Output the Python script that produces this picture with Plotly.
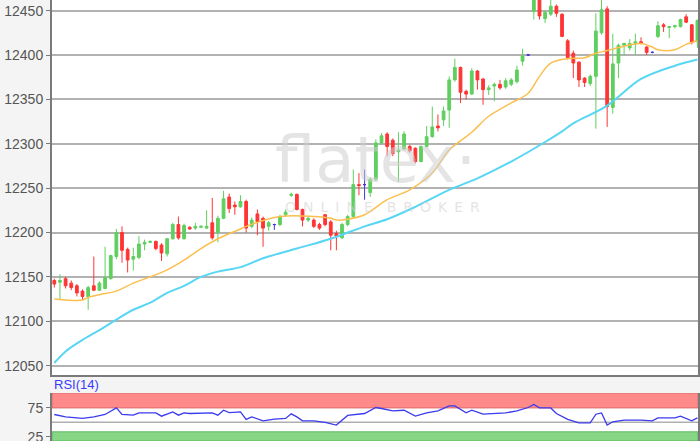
import plotly.graph_objects as go
import numpy as np

# ---- candle data (index = trading period) ----
open_ = [12146,12144,12148,12143,12140,12134,12128,12140,12135,12137,
         12148,12173,12200,12181,12170,12172,12187,12189,12190,12186,
         12176,12193,12209,12193,12206,12205,12206,12205,12211,12200,
         12216,12240,12231,12229,12235,12207,12221,12216,12207,12209,
         12209,12220,12242,12243,12226,12214,12214,12209,12220,12212,
         12199,12194,12209,12218,12254,12254,12245,12260,12301,12311,
         12304,12291,12294,12297,12295,12280,12297,12308,12320,12327,
         12338,12372,12386,12359,12356,12382,12373,12361,12365,12367,
         12364,12367,12370,12393,12400,12449,12465,12441,12446,12455,
         12446,12416,12402,12392,12374,12368,12376,12425,12452,12341,
         12391,12411,12408,12413,12415,12409,12403,12421,12434,12431,
         12432,12432,12443,12434,12415]
high_ = [12148,12153,12150,12146,12142,12136,12140,12173,12145,12184,
         12175,12204,12207,12183,12183,12196,12192,12191,12191,12188,
         12194,12211,12218,12210,12207,12211,12208,12225,12239,12219,
         12247,12244,12235,12242,12237,12217,12226,12218,12213,12210,
         12220,12226,12245,12244,12227,12218,12216,12211,12221,12214,
         12202,12211,12220,12271,12267,12271,12262,12305,12312,12313,
         12306,12313,12314,12299,12296,12298,12320,12342,12333,12342,
         12376,12396,12387,12361,12385,12383,12374,12366,12369,12372,
         12374,12374,12388,12407,12401,12475,12470,12450,12466,12457,
         12447,12418,12405,12393,12375,12378,12447,12465,12455,12424,
         12413,12414,12418,12424,12420,12410,12404,12438,12436,12432,
         12434,12441,12446,12435,12440]
low_ = [12138,12125,12137,12135,12128,12124,12113,12134,12134,12136,
        12147,12170,12166,12155,12157,12170,12180,12188,12180,12168,
        12173,12192,12192,12192,12203,12203,12205,12204,12192,12189,
        12215,12222,12220,12228,12200,12205,12197,12184,12202,12203,
        12207,12218,12240,12225,12207,12212,12205,12203,12207,12180,
        12180,12193,12207,12216,12242,12237,12240,12258,12299,12286,
        12286,12257,12293,12290,12278,12279,12296,12307,12314,12320,
        12318,12370,12346,12350,12355,12361,12344,12355,12348,12361,
        12362,12365,12368,12388,12399,12440,12440,12436,12444,12443,
        12420,12395,12374,12364,12364,12365,12317,12423,12319,12334,
        12374,12400,12405,12400,12412,12400,12402,12419,12426,12419,
        12430,12431,12436,12412,12408]
close_ = [12142,12146,12140,12138,12132,12128,12138,12135,12143,12149,
          12174,12200,12180,12169,12173,12187,12189,12190,12182,12177,
          12193,12209,12194,12208,12204,12207,12207,12207,12194,12216,
          12238,12227,12229,12235,12205,12214,12212,12205,12211,12209,
          12218,12223,12243,12226,12214,12216,12207,12205,12209,12197,
          12196,12209,12218,12254,12253,12254,12260,12301,12309,12297,
          12289,12293,12311,12292,12280,12297,12308,12319,12318,12337,
          12372,12386,12358,12356,12382,12372,12361,12363,12367,12363,
          12371,12372,12383,12399,12400,12470,12444,12448,12455,12447,
          12421,12397,12391,12372,12369,12376,12427,12451,12342,12390,
          12411,12413,12413,12415,12413,12403,12403,12433,12432,12432,
          12433,12440,12437,12414,12439]

# moving averages (candle index, value)
ma_fast_idx = [0,2,5,6,8,11,14,17,20,23,26,29,33,34,40,46,49,50,52,55,59,63,
               67,70,74,77,81,84,86,88,91,94,96,98,101,104,106,107,110,112,114]
ma_fast_val = [12125,12124,12124,12127,12130,12134,12143,12150,12158,12169,12182,
               12193,12204,12207,12218,12218,12216,12214,12215,12220,12237,12248,
               12267,12293,12313,12331,12346,12357,12376,12391,12396,12397,12402,
               12405,12410,12413,12409,12406,12406,12412,12416]
ma_slow_idx = [0,2,5,8,11,14,17,20,23,26,29,33,37,43,49,55,59,64,70,75,81,87,
               90,92,98,104,110,114]
ma_slow_val = [12053,12066,12079,12090,12102,12113,12121,12132,12140,12150,12156,
               12161,12171,12182,12193,12207,12215,12229,12248,12261,12280,12302,
               12314,12323,12343,12373,12388,12395]

# RSI(14)
rsi_idx = [0,2,5,7,9,11,12,14,15,18,19,21,22,23,24,26,28,29,30,31,33,34,35,37,
           39,41,42,43,44,46,48,50,51,52,55,57,58,60,62,64,66,68,70,71,73,74,
           76,78,80,82,84,85,86,88,89,91,93,95,96,97,98,99,101,104,106,107,110,
           111,113,114]
rsi_val = [63.6,59.5,56.7,59.5,63.6,75,63.6,62.4,66.4,66.4,60.7,68.1,62.4,66.4,
           65.3,66.4,66.4,62.4,71,67,68,55,59.5,52.6,55.5,56.7,64.7,59.5,52.6,
           52.6,49.8,45.2,53.8,62,65.3,75.7,74,69.8,71,60.7,66.4,69.8,78.4,78.4,
           66.4,71,64.1,65.3,66.4,69.8,75.7,80.9,75,75,65.3,55,49.1,49.1,64.1,
           66.4,45.2,50.9,53.8,53.8,52.6,57.8,57.8,60.7,52.6,57.8]

y_ticks = [12050, 12100, 12150, 12200, 12250, 12300, 12350, 12400, 12450]
rsi_ticks = [25, 75]

# ---- build ----
o = np.array(open_); h = np.array(high_); l = np.array(low_); c = np.array(close_)
x = np.arange(len(o))
doji = o == c
norm = ~doji

GREEN = "#5fcf5f"
RED = "#ff3434"
PURPLE = "#4433dd"

fig = go.Figure()
fig.add_trace(go.Candlestick(
    x=x[norm], open=o[norm], high=h[norm], low=l[norm], close=c[norm],
    increasing=dict(line=dict(color=GREEN, width=1), fillcolor=GREEN),
    decreasing=dict(line=dict(color=RED, width=1), fillcolor=RED),
    whiskerwidth=0, xaxis="x", yaxis="y", hoverinfo="skip", showlegend=False))
fig.add_trace(go.Candlestick(
    x=x[doji], open=o[doji], high=h[doji], low=l[doji], close=c[doji],
    increasing=dict(line=dict(color=PURPLE, width=1), fillcolor=PURPLE),
    decreasing=dict(line=dict(color=PURPLE, width=1), fillcolor=PURPLE),
    whiskerwidth=0, xaxis="x", yaxis="y", hoverinfo="skip", showlegend=False))
fig.add_trace(go.Scatter(x=ma_fast_idx, y=ma_fast_val, mode="lines",
                         line=dict(color="#fbbf4e", width=1.5, shape="spline"),
                         xaxis="x", yaxis="y", hoverinfo="skip", showlegend=False))
fig.add_trace(go.Scatter(x=ma_slow_idx, y=ma_slow_val, mode="lines",
                         line=dict(color="#58d6f4", width=2, shape="spline"),
                         xaxis="x", yaxis="y", hoverinfo="skip", showlegend=False))
fig.add_trace(go.Scatter(x=rsi_idx, y=rsi_val, mode="lines",
                         line=dict(color="#3a3aee", width=1.3),
                         xaxis="x2", yaxis="y2", hoverinfo="skip", showlegend=False))

xr = [-0.41, 114.1]
y_main_dom = [1 - 375 / 441, 1]
y_rsi_dom = [0, 48 / 441]
rsi_range = [17.6, 100.9]

shapes = [
    dict(type="rect", xref="x2 domain", yref="y2", x0=0, x1=1, y0=75, y1=rsi_range[1],
         fillcolor="#ff8a8a", line=dict(color="#e06a6a", width=1), layer="below"),
    dict(type="rect", xref="x2 domain", yref="y2", x0=0, x1=1, y0=rsi_range[0], y1=33.5,
         fillcolor="#86d686", line=dict(color="#5fb85f", width=1), layer="below"),
    dict(type="line", xref="x2 domain", yref="y2", x0=0, x1=1, y0=50, y1=50,
         line=dict(color="#b0b0b0", width=1.5), layer="below"),
]

axis_font = dict(family="Liberation Sans, Arial, sans-serif", size=14, color="#555555")
sp = "\u2002"

fig.update_layout(
    width=700, height=441,
    margin=dict(l=52, r=2, t=0, b=0, autoexpand=False),
    paper_bgcolor="#f4f4f4", plot_bgcolor="#ffffff",
    xaxis=dict(domain=[0, 1], range=xr, anchor="y", showgrid=False, zeroline=False,
               showticklabels=False, ticks="", showline=True, linecolor="#7a7a7a",
               linewidth=2, automargin=False, rangeslider=dict(visible=False)),
    yaxis=dict(domain=y_main_dom, range=[12039.5, 12462], tickvals=y_ticks,
               tickformat="d", ticklabeloverflow="allow", automargin=False,
               showgrid=True, gridcolor="#b2b2b2", gridwidth=1.5, zeroline=False,
               showline=True, mirror=True, linecolor="#7a7a7a", linewidth=2,
               ticks="outside", ticklen=4, tickcolor="#7a7a7a", tickfont=axis_font),
    xaxis2=dict(domain=[0, 1], range=xr, anchor="y2", showgrid=False, zeroline=False,
                showticklabels=False, ticks="", showline=False, automargin=False,
                rangeslider=dict(visible=False)),
    yaxis2=dict(domain=y_rsi_dom, range=rsi_range, tickvals=rsi_ticks, showgrid=False,
                ticklabeloverflow="allow", automargin=False,
                zeroline=False, showline=True, mirror=True, linecolor="#7a7a7a",
                linewidth=2, ticks="outside", ticklen=4, tickcolor="#7a7a7a",
                tickfont=axis_font),
    shapes=shapes,
    annotations=[
        dict(text="RSI(14)", xref="paper", yref="paper", x=0.0, y=(441 - 384) / 441,
             xanchor="left", yanchor="middle", showarrow=False,
             font=dict(family="Liberation Sans, Arial, sans-serif", size=13, color="#3a3aff")),
        dict(text="flatex\u00b7", xref="paper", yref="paper", x=(375 - 52) / 646,
             y=(441 - 160) / 441,
             xanchor="center", yanchor="middle", showarrow=False,
             font=dict(family="DejaVu Sans, sans-serif", size=64, color="rgba(205,205,205,0.55)")),
        dict(text=sp.join("ONLINE") + sp + sp + sp.join("BROKER"), xref="paper", yref="paper",
             x=(382 - 52) / 646, y=(441 - 207) / 441,
             xanchor="center", yanchor="middle", showarrow=False,
             font=dict(family="DejaVu Sans, sans-serif", size=14, color="rgba(210,210,210,0.6)")),
    ],
)

fig.write_html("out.html", config={"displayModeBar": False},
               post_script="document.body.style.margin='0';")
